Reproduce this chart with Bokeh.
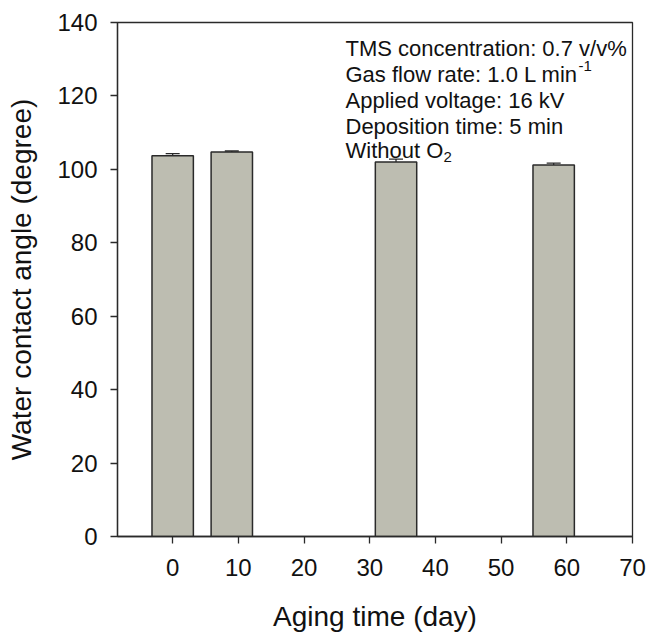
from bokeh.plotting import figure
from bokeh.models import ColumnDataSource, Whisker, Label, FixedTicker, Range1d
from bokeh.embed import file_html
from bokeh.resources import INLINE

# data
aging_days = [0, 9, 34, 58]
contact_angle = [103.7, 104.7, 102.0, 101.2]
angle_err = [0.6, 0.3, 0.8, 0.5]
x_ticks = [0, 10, 20, 30, 40, 50, 60, 70]
y_ticks = [0, 20, 40, 60, 80, 100, 120, 140]
notes = ["TMS concentration: 0.7 v/v%", "Gas flow rate: 1.0 L min",
         "Applied voltage: 16 kV", "Deposition time: 5 min", "Without O"]

FONT = "Liberation Sans"
DARK = "#2a2a2a"

src = ColumnDataSource(dict(
    x=aging_days, top=contact_angle,
    upper=[v + e for v, e in zip(contact_angle, angle_err)],
))

p = figure(width=647, height=634, output_backend="svg", toolbar_location=None,
           x_range=Range1d(-8.4, 70), y_range=Range1d(0, 140))
p.min_border_left = 117
p.min_border_right = 15
p.min_border_top = 22
p.min_border_bottom = 96
p.background_fill_color = "white"
p.border_fill_color = "white"
p.outline_line_color = DARK
p.outline_line_width = 1.3
p.xgrid.visible = False
p.ygrid.visible = False

p.vbar(x="x", top="top", width=6.3, bottom=0, source=src,
       fill_color="#bdbdb1", line_color=DARK, line_width=1.5)

w = Whisker(base="x", upper="upper", lower="top", source=src,
            line_color=DARK, line_width=1.3)
w.lower_head = None
w.upper_head.size = 14
w.upper_head.line_color = DARK
w.upper_head.line_width = 1.3
p.add_layout(w)

for ax in (p.xaxis[0], p.yaxis[0]):
    ax.axis_line_color = DARK
    ax.axis_line_width = 1.3
    ax.major_tick_line_color = DARK
    ax.major_tick_line_width = 1.3
    ax.major_tick_out = 7
    ax.major_tick_in = 0
    ax.minor_tick_out = 0
    ax.minor_tick_in = 0
    ax.major_label_text_font = FONT
    ax.major_label_text_font_size = "24px"
    ax.major_label_text_color = "#111111"
    ax.axis_label_text_font = FONT
    ax.axis_label_text_font_size = "28px"
    ax.axis_label_text_font_style = "normal"
    ax.axis_label_text_color = "#111111"

p.xaxis.ticker = FixedTicker(ticks=x_ticks)
p.yaxis.ticker = FixedTicker(ticks=y_ticks)
p.xaxis.axis_label = "Aging time (day)"
p.yaxis.axis_label = "Water contact angle (degree)"
p.xaxis.major_label_standoff = 15
p.xaxis.axis_label_standoff = 22
p.yaxis.major_label_standoff = 13
p.yaxis.axis_label_standoff = 17

# annotation block (screen units relative to the frame)
frame_h = 634 - 22 - 96
baselines = [50, 76, 102, 128, 152]
for txt, b in zip(notes, baselines):
    p.add_layout(Label(x=228, y=frame_h - (b - 22), x_units="screen", y_units="screen",
                       text=txt, text_font=FONT, text_font_size="22px",
                       text_color="#111111", text_baseline="alphabetic", text_align="left"))
p.add_layout(Label(x=461, y=frame_h - (67 - 22), x_units="screen", y_units="screen",
                   text="-1", text_font=FONT, text_font_size="15px",
                   text_color="#111111", text_baseline="alphabetic"))
p.add_layout(Label(x=326, y=frame_h - (158 - 22), x_units="screen", y_units="screen",
                   text="2", text_font=FONT, text_font_size="15px",
                   text_color="#111111", text_baseline="alphabetic"))

open("out.html", "w").write(file_html(p, INLINE))
